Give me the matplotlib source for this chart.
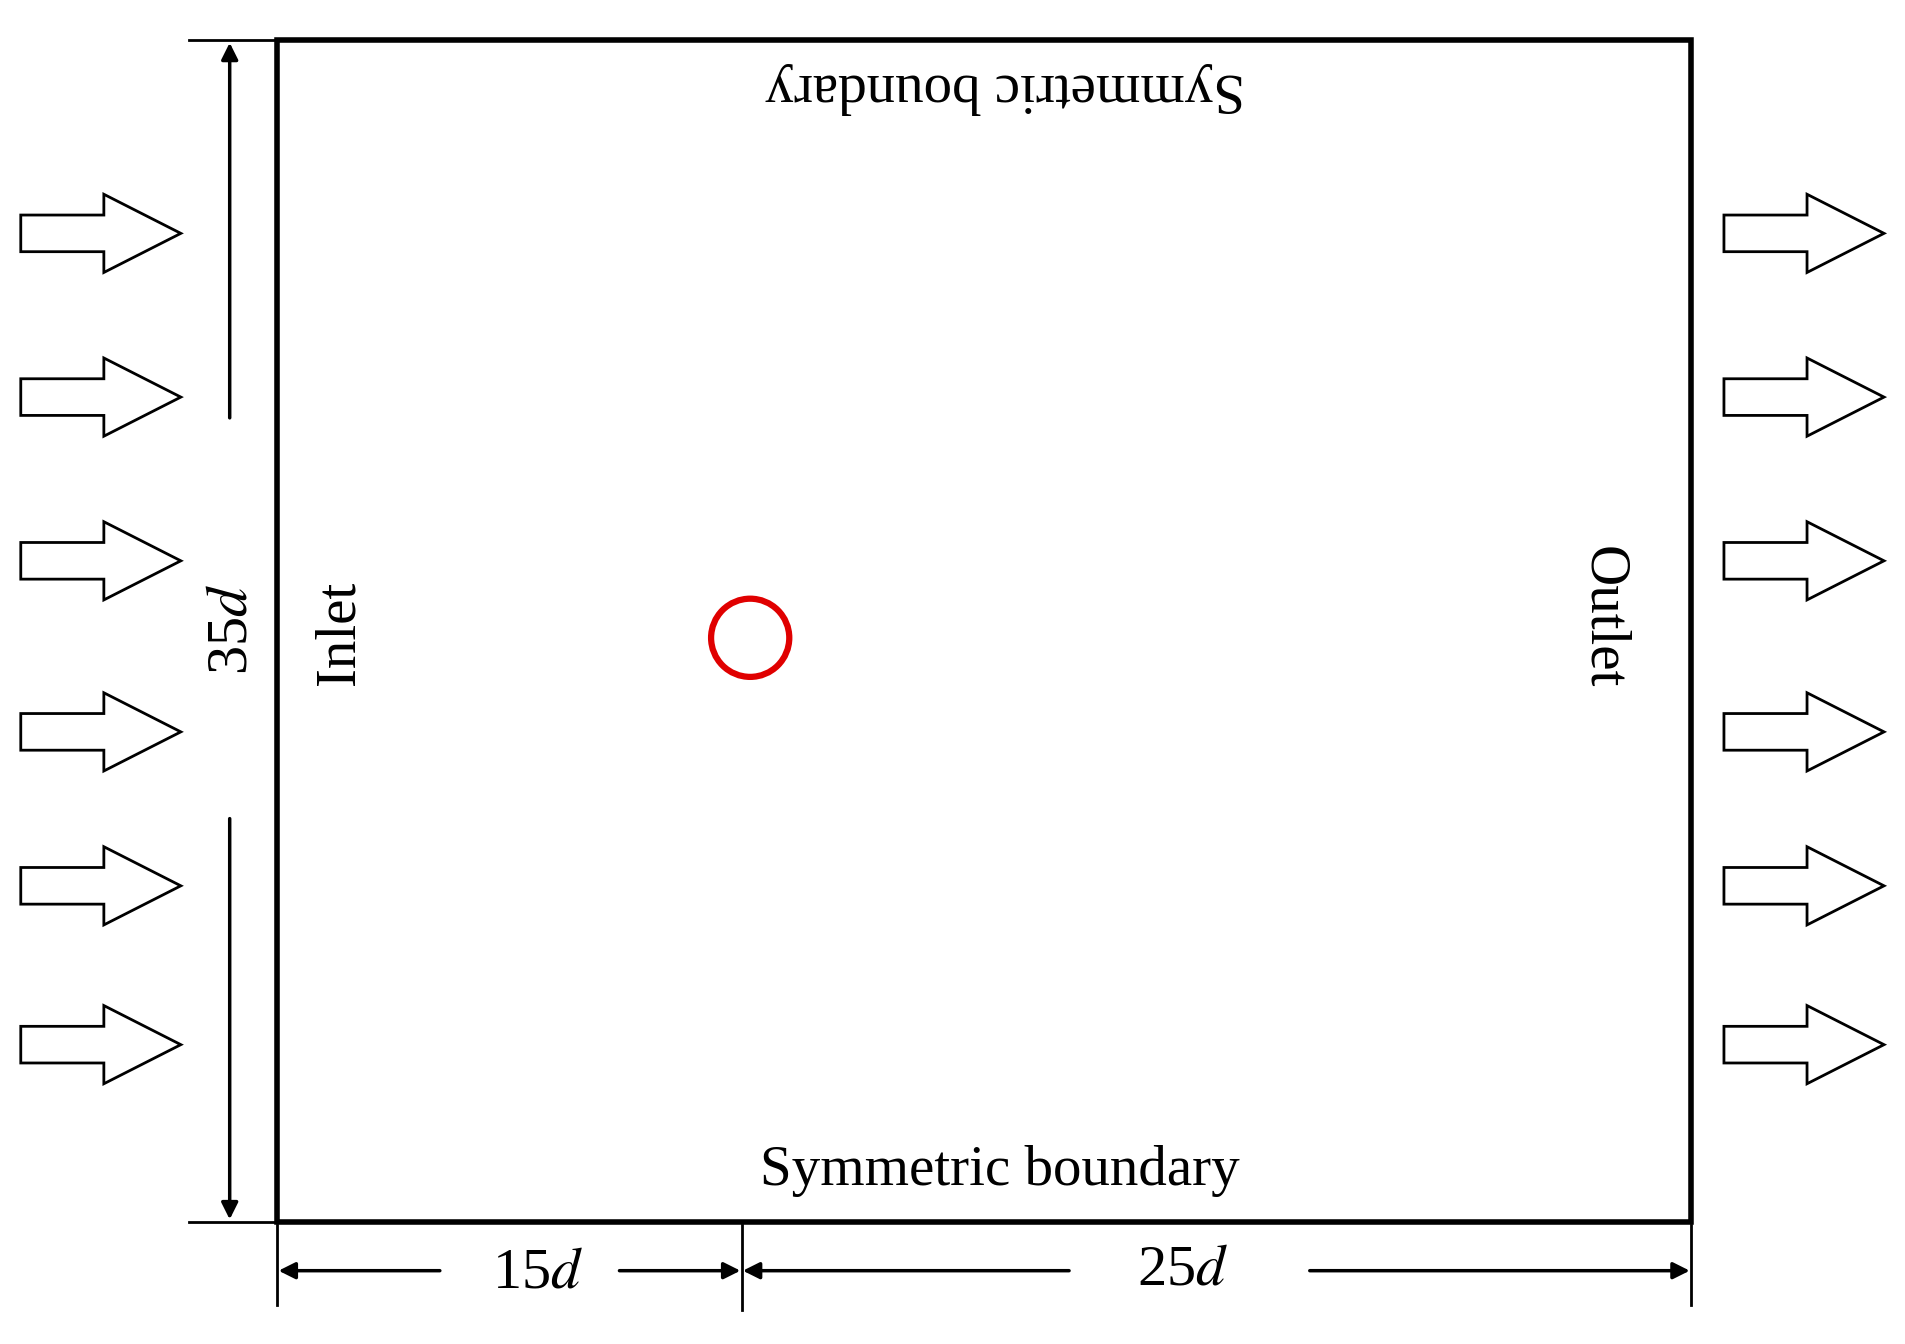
import matplotlib.pyplot as plt
from matplotlib.patches import Circle, Polygon
from matplotlib.lines import Line2D

# domain sizes in cylinder diameters (sketch is not to scale)
upstream = 15
downstream = 25
height = 35
labels = ["15$d$", "25$d$", "35$d$"]
arrow_rows = [191, 325, 459, 599, 725, 855]

plt.rcParams['font.family'] = ['Liberation Serif', 'DejaVu Serif']
plt.rcParams['mathtext.fontset'] = 'stix'

fig = plt.figure(figsize=(19.06, 13.44), dpi=100)
ax = fig.add_axes([0, 0, 1, 1])
ax.set_xlim(0, 1560)
ax.set_ylim(1100, 0)
ax.axis('off')

x0, x1 = 227, 1384
y0, y1 = 33, 1000
xc = 607

ax.add_patch(Polygon([[x0, y0], [x1, y0], [x1, y1], [x0, y1]], closed=True,
                     fill=False, lw=4, ec='black'))
ax.add_patch(Circle((614, 522), 32, fill=False, ec='#e00000', lw=4.5))


def block_arrow(xs, yc):
    pts = [[xs, yc - 15], [xs + 68, yc - 15], [xs + 68, yc - 32], [xs + 131, yc],
           [xs + 68, yc + 32], [xs + 68, yc + 15], [xs, yc + 15]]
    ax.add_patch(Polygon(pts, closed=True, fill=False, ec='black', lw=2))


for yc in arrow_rows:
    block_arrow(17, yc)
    block_arrow(1411, yc)


def dim_arrow(xa, ya, xb, yb):
    ax.annotate('', xy=(xb, yb), xytext=(xa, ya),
                arrowprops=dict(arrowstyle='-|>', color='black', lw=2.5,
                                mutation_scale=25, shrinkA=0, shrinkB=0))


# vertical dimension
ax.add_line(Line2D([155, x0], [y0, y0], color='black', lw=2))
ax.add_line(Line2D([155, x0], [y1, y1], color='black', lw=2))
dim_arrow(188, 342, 188, y0 + 2)
dim_arrow(188, 670, 188, y1 - 2)
ax.text(190, 515, labels[2], rotation=90, fontsize=42, ha='center', va='center')

# horizontal dimensions
for xv, yb in [(x0, 1068), (xc, 1072), (x1, 1068)]:
    ax.add_line(Line2D([xv, xv], [1003, yb], color='black', lw=2))
dim_arrow(360, 1040, x0 + 1, 1040)
dim_arrow(507, 1040, xc - 1, 1040)
dim_arrow(875, 1040, xc + 1, 1040)
dim_arrow(1072, 1040, x1 - 1, 1040)
ax.text(440, 1042, labels[0], fontsize=42, ha='center', va='center')
ax.text(968, 1040, labels[1], fontsize=42, ha='center', va='center')

ax.text(278, 518, "Inlet", rotation=90, fontsize=41, ha='center', va='center')
ax.text(1312, 505, "Outlet", rotation=-90, fontsize=41, ha='center', va='center')
ax.text(823, 72, "Symmetric boundary", rotation=180, fontsize=41, ha='center', va='center')
ax.text(818, 958, "Symmetric boundary", fontsize=41, ha='center', va='center')

fig.savefig('out.png', dpi=100)
